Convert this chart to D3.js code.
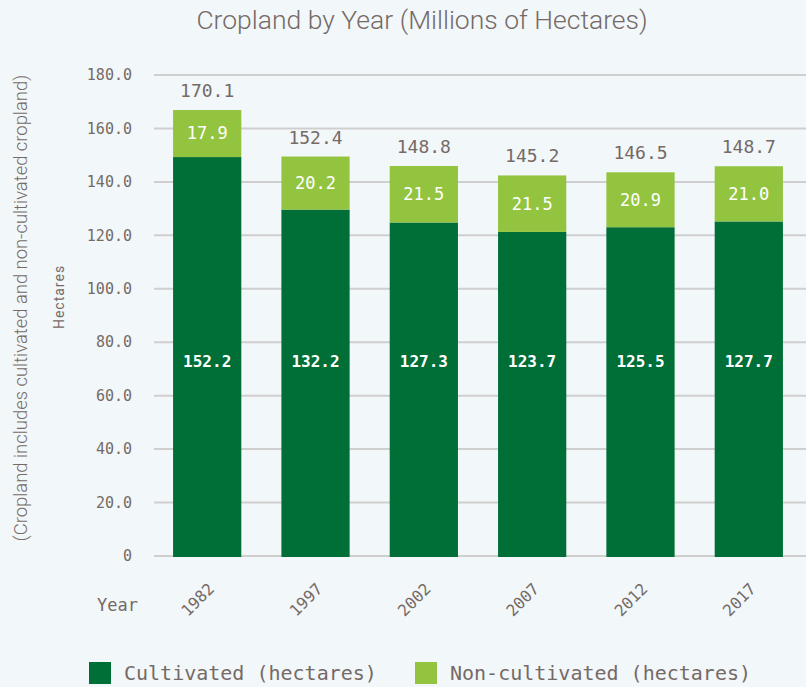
<!DOCTYPE html>
<html>
<head>
<meta charset="utf-8">
<script src="https://cdn.jsdelivr.net/npm/d3@7"></script>
<style>
  html, body { margin: 0; padding: 0; background: #f2f7fa; }
  svg { display: block; }
</style>
</head>
<body>
<div id="chart"></div>
<script>
//cropland stacked bars, cultivated + non-cultivated

var years = ["1982", "1997", "2002", "2007", "2012", "2017"];
var cultivated = [152.2, 132.2, 127.3, 123.7, 125.5, 127.7];
var noncultivated = [17.9, 20.2, 21.5, 21.5, 20.9, 21.0];
var totals = [170.1, 152.4, 148.8, 145.2, 146.5, 148.7];
var y_ticks = [0, 20, 40, 60, 80, 100, 120, 140, 160, 180];
var series_names = ["Cultivated (hectares)", "Non-cultivated (hectares)"];
var inner_label_at = 73; //cultivated labels all sit at one height

var W = 806, H = 687;
var dark = "#006f37", light = "#93c43f", txt = "#756a66";
var mono = "'DejaVu Sans Mono', 'Liberation Mono', monospace";

var svg = d3.select("#chart").append("svg").attr("width", W).attr("height", H);

var x = d3.scaleBand().domain(years).range([154, 802]).paddingInner(0.37).paddingOuter(0.176);
//grid scale and bar scale differ a little in the original
var y = d3.scaleLinear().domain([0, 180]).range([556, 75]);
var yb = d3.scaleLinear().domain([0, 180]).range([557, 84]);

//title
svg.append("text").attr("x", 422).attr("y", 29).attr("text-anchor", "middle")
   .style("font-family", "Roboto").style("font-weight", 300).style("font-size", "26.5px")
   .attr("fill", txt).text("Cropland by Year (Millions of Hectares)");

//gridlines + tick labels
var grid = svg.append("g");
grid.selectAll("line").data(y_ticks).enter().append("line")
	.attr("x1", 154).attr("x2", W)
	.attr("y1", function(d){return y(d)}).attr("y2", function(d){return y(d)})
	.attr("stroke", "#cfcfcf").attr("stroke-width", 2);
grid.selectAll("text").data(y_ticks).enter().append("text")
	.attr("x", 132).attr("y", function(d){return y(d)})
	.attr("dy", "0.35em").attr("text-anchor", "end")
	.style("font-family", mono).style("font-size", "15px").attr("fill", txt)
	.text(function(d){return d === 0 ? "0" : d3.format(".1f")(d)});

//stack
var rows = years.map(function(yr, i){ return {year:yr, c:cultivated[i], n:noncultivated[i], t:totals[i]} });
var stack = d3.stack().keys(["c", "n"])(rows);
var fills = [dark, light];

var layers = svg.selectAll("g.layer").data(stack).enter().append("g").classed("layer", true)
	.attr("fill", function(d, i){return fills[i]});
layers.selectAll("rect").data(function(d){return d}).enter().append("rect")
	.attr("x", function(d){return x(d.data.year)})
	.attr("width", x.bandwidth())
	.attr("y", function(d){return yb(d[1])})
	.attr("height", function(d){return yb(d[0]) - yb(d[1])});

//inner labels
layers.each(function(L, li){
	d3.select(this).selectAll("text").data(L).enter().append("text")
		.attr("x", function(d){return x(d.data.year) + x.bandwidth()/2})
		.attr("y", function(d){return li === 0 ? y(inner_label_at) : (yb(d[0]) + yb(d[1]))/2})
		.attr("dy", "0.35em").attr("text-anchor", "middle")
		.style("font-family", mono)
		.style("font-weight", li === 0 ? 700 : 400)
		.style("font-size", li === 0 ? "16px" : "17px")
		.attr("fill", "#fff")
		.text(function(d){return d3.format(".1f")(d[1] - d[0])});
});

//totals
svg.append("g").selectAll("text").data(rows).enter().append("text")
	.attr("x", function(d){return x(d.year) + x.bandwidth()/2})
	.attr("y", function(d){return yb(d.c + d.n) - 13})
	.attr("text-anchor", "middle")
	.style("font-family", mono).style("font-size", "18px").attr("fill", txt)
	.text(function(d){return d3.format(".1f")(d.t)});

//year labels
svg.append("g").selectAll("text").data(years).enter().append("text")
	.attr("transform", function(d){return "translate(" + (x(d) + x.bandwidth()/2 + 8) + ",590) rotate(-45)"})
	.attr("text-anchor", "end")
	.style("font-family", mono).style("font-size", "16px").attr("fill", txt)
	.text(function(d){return d});

svg.append("text").attr("x", 97).attr("y", 611)
   .style("font-family", mono).style("font-size", "17px").attr("fill", txt).text("Year");

//axis titles
svg.append("text").attr("transform", "translate(27,308) rotate(-90)").attr("text-anchor", "middle")
   .style("font-family", "Roboto").style("font-weight", 300).style("font-size", "18.4px").attr("fill", txt)
   .text("(Cropland includes cultivated and non-cultivated cropland)");
svg.append("text").attr("transform", "translate(64,297) rotate(-90)").attr("text-anchor", "middle")
   .style("font-family", "Roboto").style("font-size", "14px").style("letter-spacing", "1px").attr("fill", txt)
   .text("Hectares");

//legend
var leg_x = [89, 415];
var leg = svg.selectAll("g.leg").data(series_names).enter().append("g").classed("leg", true)
	.attr("transform", function(d, i){return "translate(" + leg_x[i] + ",662)"});
leg.append("rect").attr("width", 22).attr("height", 22).attr("fill", function(d, i){return fills[i]});
leg.append("text").attr("x", 35).attr("y", 18)
	.style("font-family", mono).style("font-size", "20px").attr("fill", txt)
	.text(function(d){return d});
</script>
</body>
</html>
